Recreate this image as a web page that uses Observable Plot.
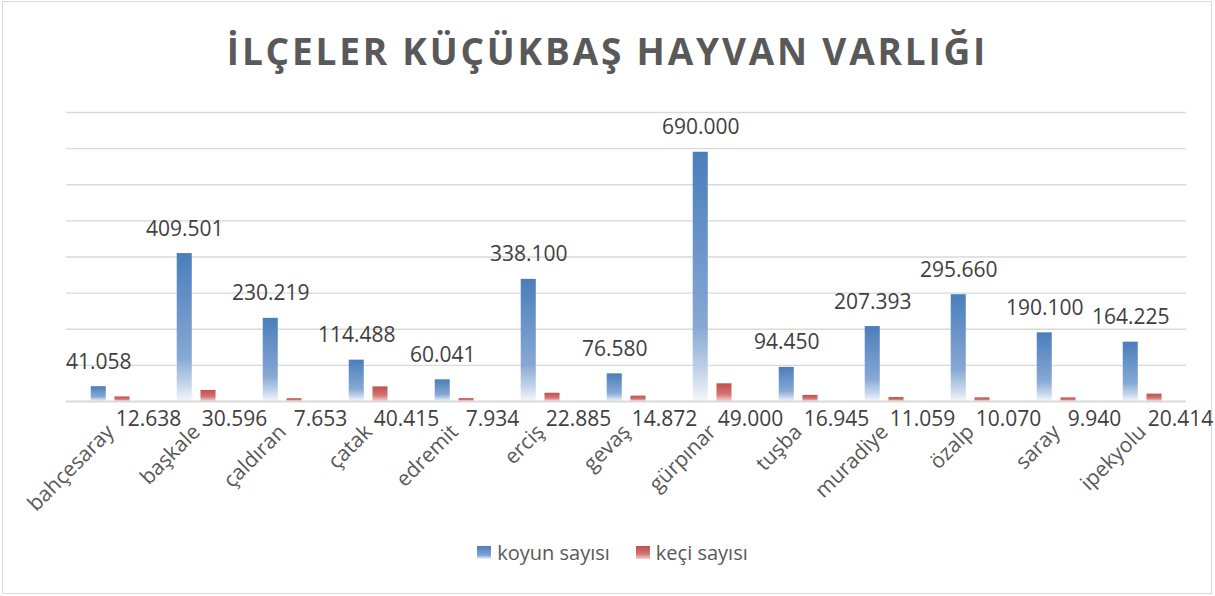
<!DOCTYPE html>
<html>
<head>
<meta charset="utf-8">
<script src="https://cdn.jsdelivr.net/npm/d3@7"></script>
<script src="https://cdn.jsdelivr.net/npm/@observablehq/plot@0.6"></script>
<style>
  body { margin: 0; background: #fff; font-family: "Open Sans", sans-serif; }
  #wrap { position: relative; width: 1215px; height: 596px; overflow: hidden; background: #fff; }
  #frame { position: absolute; left: 2px; top: 1px; width: 1210px; height: 593px; border: 1.5px solid #D9D9D9; box-sizing: border-box; }
  #title { position: absolute; left: 0; top: 33px; width: 1215px; text-align: center; font-size: 37px; line-height: 36px; font-weight: 700; color: #595959; margin: 0; letter-spacing: 2.8px; }
  #chart { position: absolute; left: 0; top: 100px; }
  #legend { position: absolute; left: 5px; top: 540px; width: 1215px; height: 24px; display: flex; justify-content: center; align-items: center; gap: 26px; font-size: 20px; color: #595959; }
  .item { display: flex; align-items: center; }
  .sw { width: 14px; height: 13px; margin-right: 6px; }
</style>
</head>
<body>
<div id="wrap">
  <div id="frame"></div>
  <div id="title">İLÇELER KÜÇÜKBAŞ HAYVAN VARLIĞI</div>
  <div id="chart"></div>
  <div id="legend"></div>
</div>
<script>
const districts = ["bahçesaray", "başkale", "çaldıran", "çatak", "edremit", "erciş", "gevaş", "gürpınar", "tuşba", "muradiye", "özalp", "saray", "ipekyolu"];
const koyun = [41058, 409501, 230219, 114488, 60041, 338100, 76580, 690000, 94450, 207393, 295660, 190100, 164225];
const keci = [12638, 30596, 7653, 40415, 7934, 22885, 14872, 49000, 16945, 11059, 10070, 9940, 20414];
const seriesNames = ["koyun sayısı", "keçi sayısı"];
const yTicks = [100000, 200000, 300000, 400000, 500000, 600000, 700000, 800000];

const koyunData = districts.map((d, i) => ({district: d, series: seriesNames[0], value: koyun[i]}));
const keciData = districts.map((d, i) => ({district: d, series: seriesNames[1], value: keci[i]}));

const tr = d3.formatLocale({decimal: ",", thousands: ".", grouping: [3], currency: ["", ""]});
const fmt = tr.format(",.0f");

const W = 1215, H = 440, ML = 66, MR = 29, MT = 12, MB = 139;
const band = (W - ML - MR) / districts.length;
const barW = 15.2;
const offB = -11.75, offR = 12;
const cB = band / 2 + offB, cR = band / 2 + offR;

const chart = Plot.plot({
  width: W,
  height: H,
  marginLeft: ML,
  marginRight: MR,
  marginTop: MT,
  marginBottom: MB,
  style: {fontFamily: "Open Sans", fontSize: "21px", color: "#595959", background: "transparent", overflow: "visible"},
  x: {domain: districts, padding: 0, axis: null},
  y: {domain: [0, 800000], axis: null},
  marks: [
    Plot.ruleY(yTicks, {stroke: "#D9D9D9", strokeWidth: 1.3}),
    Plot.barY(koyunData, {x: "district", y: "value", fill: "url(#gBlue)",
      insetLeft: cB - barW / 2, insetRight: band - cB - barW / 2}),
    Plot.barY(keciData, {x: "district", y: "value", fill: "url(#gRed)",
      insetLeft: cR - barW / 2, insetRight: band - cR - barW / 2}),
    Plot.ruleY([0], {stroke: "#D9D9D9", strokeWidth: 2.2}),
    Plot.text(koyunData, {x: "district", y: "value", text: d => fmt(d.value), dx: offB, dy: -18,
      lineAnchor: "bottom", fontSize: 21, fill: "#404040"}),
    Plot.text(keciData, {x: "district", y: () => 0, text: d => fmt(d.value), dx: offR + 26, dy: 24,
      lineAnchor: "bottom", fontSize: 21, fill: "#404040"}),
    Plot.axisX({tickRotate: -45, tickSize: 0, tickPadding: 27, fontSize: 21, fill: "#595959", label: null})
  ]
});

const defs = d3.select(chart).insert("defs", ":first-child");
const gb = defs.append("linearGradient").attr("id", "gBlue").attr("x1", 0).attr("y1", 0).attr("x2", 0).attr("y2", 1);
[[0, "#4A7EBB"], [0.7, "#86A8D4"], [0.88, "#C2D3EA"], [1, "#F4F7FC"]].forEach(([o, c]) => gb.append("stop").attr("offset", o).attr("stop-color", c));
const gr = defs.append("linearGradient").attr("id", "gRed").attr("x1", 0).attr("y1", 0).attr("x2", 0).attr("y2", 1);
[[0, "#C0504D"], [0.6, "#D27471"], [1, "#F2CFCE"]].forEach(([o, c]) => gr.append("stop").attr("offset", o).attr("stop-color", c));

document.getElementById("chart").appendChild(chart);

const legend = document.getElementById("legend");
const swatches = [["linear-gradient(#4A7EBB, #7DA2D2 70%, #EEF3FA)", seriesNames[0]], ["linear-gradient(#C0504D, #D27471 60%, #F2CFCE)", seriesNames[1]]];
swatches.forEach(([bg, name]) => {
  const it = document.createElement("div");
  it.className = "item";
  const sw = document.createElement("div");
  sw.className = "sw";
  sw.style.background = bg;
  const tx = document.createElement("span");
  tx.textContent = name;
  it.appendChild(sw);
  it.appendChild(tx);
  legend.appendChild(it);
});
</script>
</body>
</html>
